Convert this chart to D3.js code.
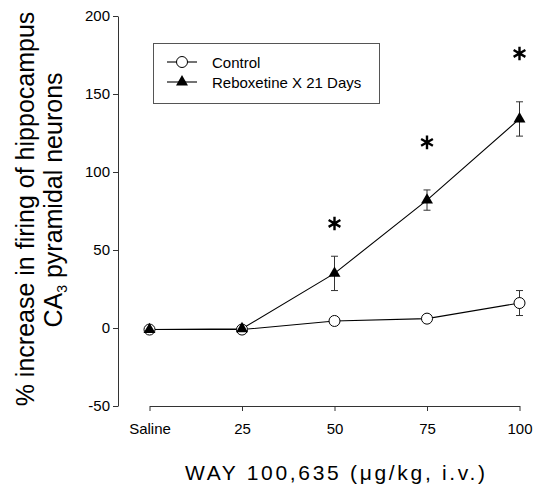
<!DOCTYPE html>
<html>
<head>
<meta charset="utf-8">
<script src="https://cdn.jsdelivr.net/npm/d3@7"></script>
<style>
  body { margin: 0; background: #fff; }
  svg { display: block; }
  text { font-family: "Liberation Sans", Arial, Helvetica, sans-serif; fill: #000; }
</style>
</head>
<body>
<svg id="chart" width="533" height="490"></svg>
<script>
// ---- data ----
const doses = [0, 25, 50, 75, 100];
const doseLabels = ["Saline", "25", "50", "75", "100"];
const controlMean = [-1, -1, 4.5, 6, 16];
const controlErr = [1, 1, 1.5, 1.5, 8];
const reboxMean = [-1, -0.5, 35, 82, 134];
const reboxErr = [1, 1, 11, 6.5, 11];
const sigStarY = [null, null, 67, 119, 176];
const yTicks = [-50, 0, 50, 100, 150, 200];
const seriesNames = ["Control", "Reboxetine X 21 Days"];

const svg = d3.select("#chart");
const x = d3.scaleLinear().domain([0, 100]).range([149.5, 519.5]);
const y = d3.scaleLinear().domain([-50, 200]).range([406, 16]);

// axes
const yAxis = svg.append("g").attr("transform", "translate(118,0)")
  .call(d3.axisLeft(y).tickValues(yTicks).tickFormat(d => String(d))
    .tickSize(5).tickSizeOuter(0).tickPadding(3));
const xAxis = svg.append("g").attr("transform", "translate(0,406)")
  .call(d3.axisBottom(x).tickValues(doses).tickFormat((d, i) => doseLabels[i])
    .tickSize(5).tickSizeOuter(0).tickPadding(12));
[yAxis, xAxis].forEach(g => {
  g.selectAll("path, line").attr("stroke", "#333").attr("stroke-width", 1);
  g.selectAll("text").style("font-size", "15px").attr("fill", "#000");
});

// axis titles
const yt = svg.append("g").attr("transform", "rotate(-90)");
yt.append("text").attr("x", -209).attr("y", 34).attr("text-anchor", "middle")
  .style("font-size", "25px").text("% increase in firing of hippocampus");
const l2 = yt.append("text").attr("x", -200).attr("y", 62).attr("text-anchor", "middle")
  .style("font-size", "25px");
l2.append("tspan").text("CA");
l2.append("tspan").attr("dy", 5).style("font-size", "14px").text("3");
l2.append("tspan").attr("dy", -5).text(" pyramidal neurons");

svg.append("text").attr("x", 185).attr("y", 480)
  .attr("textLength", 300).attr("lengthAdjust", "spacing")
  .style("font-size", "21px").text("WAY 100,635 (\u03bcg/kg, i.v.)");

// lines
const line = d3.line().x((d, i) => x(doses[i])).y(d => y(d));
svg.append("path").datum(controlMean).attr("d", line).attr("fill", "none").attr("stroke", "#000").attr("stroke-width", 1.1);
svg.append("path").datum(reboxMean).attr("d", line).attr("fill", "none").attr("stroke", "#000").attr("stroke-width", 1.1);

// error bars
function errBars(mean, err) {
  const g = svg.append("g").attr("stroke", "#333").attr("stroke-width", 1);
  mean.forEach((m, i) => {
    const cx = x(doses[i]);
    g.append("line").attr("x1", cx).attr("x2", cx).attr("y1", y(m - err[i])).attr("y2", y(m + err[i]));
    g.append("line").attr("x1", cx - 3.5).attr("x2", cx + 3.5).attr("y1", y(m - err[i])).attr("y2", y(m - err[i]));
    g.append("line").attr("x1", cx - 3.5).attr("x2", cx + 3.5).attr("y1", y(m + err[i])).attr("y2", y(m + err[i]));
  });
}
errBars(controlMean, controlErr);
errBars(reboxMean, reboxErr);

// markers
const tri = d3.symbol().type(d3.symbolTriangle).size(62);
svg.selectAll("circle.ctrl").data(controlMean).join("circle")
  .attr("cx", (d, i) => x(doses[i])).attr("cy", d => y(d)).attr("r", 5.5)
  .attr("fill", "#fff").attr("stroke", "#000").attr("stroke-width", 1);
svg.selectAll("path.rbx").data(reboxMean).join("path").attr("class", "rbx")
  .attr("d", tri).attr("transform", (d, i) => `translate(${x(doses[i])},${y(d)})`)
  .attr("fill", "#000");

// significance stars
const star = d3.symbol().type(d3.symbolAsterisk).size(130);
svg.selectAll("path.star").data(sigStarY.map((v, i) => [v, i]).filter(d => d[0] !== null)).join("path")
  .attr("class", "star").attr("d", star)
  .attr("transform", d => `translate(${x(doses[d[1]])},${y(d[0])})`)
  .attr("fill", "none").attr("stroke", "#000").attr("stroke-width", 2.4);

// legend
const lg = svg.append("g");
lg.append("rect").attr("x", 153.5).attr("y", 43.5).attr("width", 226).attr("height", 60)
  .attr("fill", "#fff").attr("stroke", "#555").attr("stroke-width", 1);
[62, 82].forEach((ly, i) => {
  lg.append("line").attr("x1", 167).attr("x2", 197).attr("y1", ly).attr("y2", ly).attr("stroke", "#000").attr("stroke-width", 1.1);
  if (i === 0) {
    lg.append("circle").attr("cx", 182).attr("cy", ly).attr("r", 5.5).attr("fill", "#fff").attr("stroke", "#000");
  } else {
    lg.append("path").attr("d", tri).attr("transform", `translate(182,${ly})`).attr("fill", "#000");
  }
  lg.append("text").attr("x", 212).attr("y", ly + 5.5).style("font-size", "15px").text(seriesNames[i]);
});
</script>
</body>
</html>
